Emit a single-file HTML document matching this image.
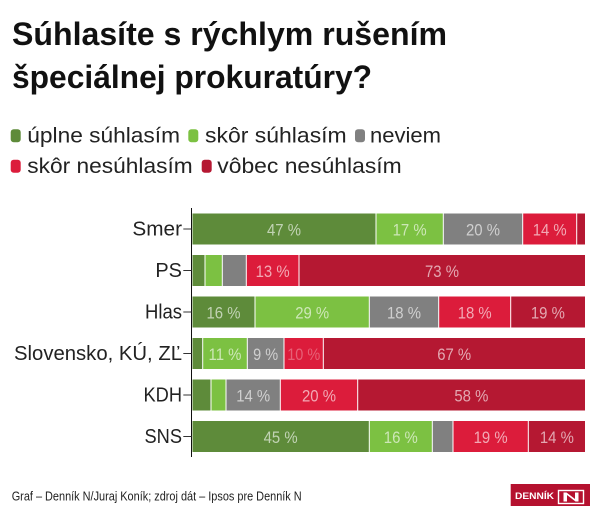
<!DOCTYPE html>
<html><head><meta charset="utf-8">
<style>
html,body{margin:0;padding:0;background:#fff;}
svg{display:block;}
text{font-family:"Liberation Sans",sans-serif;}
</style></head>
<body>
<svg width="600" height="521" viewBox="0 0 600 521" xmlns="http://www.w3.org/2000/svg">
<rect width="600" height="521" fill="#fff"/>
<!-- Title -->
<text x="12" y="45" font-size="32" font-weight="bold" fill="#111" textLength="435" lengthAdjust="spacingAndGlyphs">Súhlasíte s rýchlym rušením</text>
<text x="12" y="88" font-size="32" font-weight="bold" fill="#111" textLength="360" lengthAdjust="spacingAndGlyphs">špeciálnej prokuratúry?</text>

<!-- Legend -->
<g font-size="21" fill="#222">
<rect x="10.7" y="129.3" width="10" height="13" rx="3" fill="#5e8b3a"/>
<text x="27.3" y="142.5" textLength="152.7" lengthAdjust="spacingAndGlyphs">úplne súhlasím</text>
<rect x="188.3" y="129.3" width="10" height="13" rx="3" fill="#7cc142"/>
<text x="205" y="142.5" textLength="141.7" lengthAdjust="spacingAndGlyphs">skôr súhlasím</text>
<rect x="355" y="129.3" width="10" height="13" rx="3" fill="#808080"/>
<text x="370" y="142.5" textLength="71" lengthAdjust="spacingAndGlyphs">neviem</text>
<rect x="10.7" y="159.7" width="10" height="13" rx="3" fill="#dc1c3b"/>
<text x="27.3" y="173" textLength="165.4" lengthAdjust="spacingAndGlyphs">skôr nesúhlasím</text>
<rect x="201.7" y="159.7" width="10" height="13" rx="3" fill="#b51832"/>
<text x="217.3" y="173" textLength="184.4" lengthAdjust="spacingAndGlyphs">vôbec nesúhlasím</text>
</g>

<!-- Category labels -->
<g font-size="20" fill="#222" text-anchor="end">
<text x="182" y="235.7" textLength="49.6" lengthAdjust="spacingAndGlyphs">Smer</text>
<text x="182" y="277.2" textLength="26.6" lengthAdjust="spacingAndGlyphs">PS</text>
<text x="182" y="318.7" textLength="37" lengthAdjust="spacingAndGlyphs">Hlas</text>
<text x="182" y="360.2" textLength="168" lengthAdjust="spacingAndGlyphs">Slovensko, KÚ, ZĽ</text>
<text x="182" y="401.7" textLength="38.5" lengthAdjust="spacingAndGlyphs">KDH</text>
<text x="182" y="443.2" textLength="37.5" lengthAdjust="spacingAndGlyphs">SNS</text>
</g>

<!-- Axis -->
<line x1="191.5" y1="208" x2="191.5" y2="457" stroke="#111" stroke-width="1"/>
<g stroke="#333" stroke-width="1">
<line x1="183.3" y1="229" x2="191.5" y2="229"/>
<line x1="183.3" y1="270.5" x2="191.5" y2="270.5"/>
<line x1="183.3" y1="312" x2="191.5" y2="312"/>
<line x1="183.3" y1="353.5" x2="191.5" y2="353.5"/>
<line x1="183.3" y1="395" x2="191.5" y2="395"/>
<line x1="183.3" y1="436.5" x2="191.5" y2="436.5"/>
</g>

<!-- Bars -->
<g>
<!-- Smer -->
<rect x="192.5" y="213.5" width="183" height="31" fill="#5e8b3a"/>
<rect x="376.5" y="213.5" width="66.3" height="31" fill="#7cc142"/>
<rect x="443.8" y="213.5" width="78.4" height="31" fill="#808080"/>
<rect x="523.2" y="213.5" width="53" height="31" fill="#dc1c3b"/>
<rect x="577.2" y="213.5" width="7.8" height="31" fill="#b51832"/>
<!-- PS -->
<rect x="192.5" y="255" width="12" height="31" fill="#5e8b3a"/>
<rect x="205.5" y="255" width="16.3" height="31" fill="#7cc142"/>
<rect x="222.8" y="255" width="23" height="31" fill="#808080"/>
<rect x="246.8" y="255" width="51.7" height="31" fill="#dc1c3b"/>
<rect x="299.5" y="255" width="285.5" height="31" fill="#b51832"/>
<!-- Hlas -->
<rect x="192.5" y="296.5" width="62" height="31" fill="#5e8b3a"/>
<rect x="255.5" y="296.5" width="113.3" height="31" fill="#7cc142"/>
<rect x="369.8" y="296.5" width="68.4" height="31" fill="#808080"/>
<rect x="439.2" y="296.5" width="71" height="31" fill="#dc1c3b"/>
<rect x="511.2" y="296.5" width="73.8" height="31" fill="#b51832"/>
<!-- Slovensko -->
<rect x="192.5" y="338" width="9.7" height="31" fill="#5e8b3a"/>
<rect x="203.2" y="338" width="43.6" height="31" fill="#7cc142"/>
<rect x="247.8" y="338" width="35.7" height="31" fill="#808080"/>
<rect x="284.5" y="338" width="38.3" height="31" fill="#dc1c3b"/>
<rect x="323.8" y="338" width="261.2" height="31" fill="#b51832"/>
<!-- KDH -->
<rect x="192.5" y="379.5" width="18" height="31" fill="#5e8b3a"/>
<rect x="211.5" y="379.5" width="14" height="31" fill="#7cc142"/>
<rect x="226.5" y="379.5" width="53.3" height="31" fill="#808080"/>
<rect x="280.8" y="379.5" width="76.4" height="31" fill="#dc1c3b"/>
<rect x="358.2" y="379.5" width="226.8" height="31" fill="#b51832"/>
<!-- SNS -->
<rect x="192.5" y="421" width="176.3" height="31" fill="#5e8b3a"/>
<rect x="369.8" y="421" width="62" height="31" fill="#7cc142"/>
<rect x="432.8" y="421" width="19.7" height="31" fill="#808080"/>
<rect x="453.5" y="421" width="74.3" height="31" fill="#dc1c3b"/>
<rect x="528.8" y="421" width="56.2" height="31" fill="#b51832"/>
</g>

<!-- Bar labels -->
<g font-size="17" fill="#fff" fill-opacity="0.62" text-anchor="middle">
<text x="284" y="235.7" textLength="34" lengthAdjust="spacingAndGlyphs">47 %</text>
<text x="409.6" y="235.7" textLength="34" lengthAdjust="spacingAndGlyphs">17 %</text>
<text x="483" y="235.7" textLength="34" lengthAdjust="spacingAndGlyphs">20 %</text>
<text x="549.7" y="235.7" textLength="34" lengthAdjust="spacingAndGlyphs">14 %</text>

<text x="272.6" y="277.2" textLength="34" lengthAdjust="spacingAndGlyphs">13 %</text>
<text x="442" y="277.2" textLength="34" lengthAdjust="spacingAndGlyphs">73 %</text>

<text x="223.5" y="318.7" textLength="34" lengthAdjust="spacingAndGlyphs">16 %</text>
<text x="312.2" y="318.7" textLength="34" lengthAdjust="spacingAndGlyphs">29 %</text>
<text x="404" y="318.7" textLength="34" lengthAdjust="spacingAndGlyphs">18 %</text>
<text x="474.7" y="318.7" textLength="34" lengthAdjust="spacingAndGlyphs">18 %</text>
<text x="547.9" y="318.7" textLength="34" lengthAdjust="spacingAndGlyphs">19 %</text>

<text x="225" y="360.2" textLength="33" lengthAdjust="spacingAndGlyphs">11 %</text>
<text x="265.6" y="360.2" textLength="25" lengthAdjust="spacingAndGlyphs">9 %</text>
<text x="303.7" y="360.2" textLength="33" lengthAdjust="spacingAndGlyphs" fill-opacity="0.3">10 %</text>
<text x="454.2" y="360.2" textLength="34" lengthAdjust="spacingAndGlyphs">67 %</text>

<text x="253.2" y="401.7" textLength="34" lengthAdjust="spacingAndGlyphs">14 %</text>
<text x="319" y="401.7" textLength="34" lengthAdjust="spacingAndGlyphs">20 %</text>
<text x="471.4" y="401.7" textLength="34" lengthAdjust="spacingAndGlyphs">58 %</text>

<text x="280.6" y="443.2" textLength="34" lengthAdjust="spacingAndGlyphs">45 %</text>
<text x="400.8" y="443.2" textLength="34" lengthAdjust="spacingAndGlyphs">16 %</text>
<text x="490.6" y="443.2" textLength="34" lengthAdjust="spacingAndGlyphs">19 %</text>
<text x="556.9" y="443.2" textLength="34" lengthAdjust="spacingAndGlyphs">14 %</text>
</g>

<!-- Footer -->
<text x="11.7" y="500.7" font-size="13" fill="#222" textLength="290" lengthAdjust="spacingAndGlyphs">Graf – Denník N/Juraj Koník; zdroj dát – Ipsos pre Denník N</text>

<!-- Logo -->
<rect x="510.7" y="484" width="79.3" height="22" fill="#b5112f"/>
<text x="515" y="499" font-family="Liberation Serif, serif" font-size="9.5" font-weight="bold" fill="#fff" textLength="39" lengthAdjust="spacingAndGlyphs">DENNÍK</text>
<rect x="558.5" y="490.5" width="25" height="13" fill="none" stroke="#fff" stroke-width="1.4"/>
<path d="M563.5 501.5 V492.5 H566.5 L575 499 V492.5 H578.5 V501.5 H575.5 L567 495 V501.5 Z" fill="#fff"/>
</svg>
</body></html>
